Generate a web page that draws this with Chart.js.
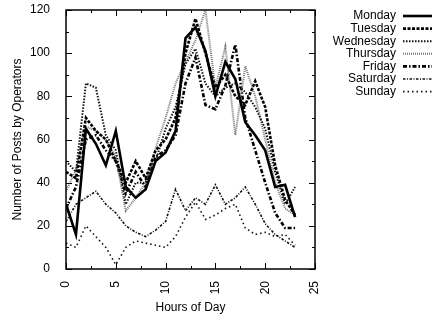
<!DOCTYPE html>
<html>
<head>
<meta charset="utf-8">
<script src="https://cdn.jsdelivr.net/npm/chart.js@4/dist/chart.umd.min.js"></script>
<style>
  html, body { margin: 0; padding: 0; background: #fff; }
  #wrap { width: 437px; height: 322px; }
</style>
</head>
<body>
<div id="wrap"><canvas id="postsChart" width="437" height="322"></canvas></div>
<script>
// Hours of the day
const hours = [0, 1, 2, 3, 4, 5, 6, 7, 8, 9, 10, 11, 12, 13, 14, 15, 16, 17, 18, 19, 20, 21, 22, 23];

// Posts per hour, one list per weekday
const monday    = [30, 16, 65, 58, 48, 64, 38, 33, 37, 50, 54, 64, 107, 112, 101, 80, 96, 88, 68, 62, 55, 38, 39, 24];
const tuesday   = [45, 42, 70, 64, 60, 50, 40, 50, 42, 55, 60, 70, 100, 116, 100, 84, 90, 80, 76, 87, 75, 48, 32, 25];
const wednesday = [50, 45, 86, 84, 62, 55, 30, 40, 40, 50, 65, 75, 95, 102, 86, 80, 84, 86, 82, 75, 65, 45, 30, 38];
const thursday  = [36, 46, 66, 64, 60, 52, 27, 33, 40, 56, 70, 86, 96, 106, 120, 84, 103, 62, 94, 80, 60, 40, 28, 25];
const friday    = [28, 38, 60, 62, 55, 50, 35, 45, 38, 52, 55, 62, 86, 98, 76, 74, 85, 104, 70, 55, 40, 26, 19, 19];
const saturday  = [22, 30, 33, 36, 30, 26, 20, 17, 15, 18, 22, 37, 27, 33, 30, 39, 30, 33, 38, 30, 21, 16, 13, 10];
const sunday    = [12, 10, 20, 15, 10, 2, 10, 13, 12, 11, 10, 15, 24, 31, 23, 25, 28, 30, 19, 16, 17, 15, 16, 11];

const dayNames = ['Monday', 'Tuesday', 'Wednesday', 'Thursday', 'Friday', 'Saturday', 'Sunday'];
const xTickLabels = [0, 5, 10, 15, 20, 25];
const yTickLabels = [0, 20, 40, 60, 80, 100, 120];

const FONT = "'Liberation Sans', Arial, sans-serif";

function toPoints(values) {
  return hours.map((h, i) => ({ x: h, y: values[i] }));
}

// line style for each day, roughly like the gnuplot dash types
const styles = [
  { color: '#000', width: 2.6, dash: [] },
  { color: '#000', width: 2.6, dash: [3, 1.5] },
  { color: '#111', width: 2, dash: [1.5, 1.5] },
  { color: '#777', width: 2, dash: [1, 1] },
  { color: '#000', width: 2.6, dash: [4, 2, 1.5, 2] },
  { color: '#111', width: 1.6, dash: [2.5, 1.5, 1, 1.5] },
  { color: '#111', width: 1.6, dash: [1.5, 3] }
];

const series = [monday, tuesday, wednesday, thursday, friday, saturday, sunday];

const datasets = series.map((vals, i) => ({
  label: dayNames[i],
  data: toPoints(vals),
  borderColor: styles[i].color,
  borderWidth: styles[i].width,
  borderDash: styles[i].dash,
  pointRadius: 0,
  fill: false,
  tension: 0
}));

// Box around the plot with inward ticks on all four sides
const framePlugin = {
  id: 'frame',
  afterDraw(chart) {
    const ctx = chart.ctx;
    const a = chart.chartArea;
    const xs = chart.scales.x;
    const ys = chart.scales.y;
    ctx.save();
    ctx.strokeStyle = '#000';
    ctx.lineWidth = 1.5;
    ctx.setLineDash([]);
    ctx.strokeRect(a.left, a.top, a.right - a.left, a.bottom - a.top);

    ctx.lineWidth = 1;
    ctx.beginPath();
    for (let v = ys.min; v <= ys.max; v += 10) {
      const py = Math.round(ys.getPixelForValue(v)) + 0.5;
      const len = (v % 20 === 0) ? 6 : 3;
      ctx.moveTo(a.left, py); ctx.lineTo(a.left + len, py);
      ctx.moveTo(a.right, py); ctx.lineTo(a.right - len, py);
    }
    for (let v = xs.min; v <= xs.max; v += 2.5) {
      const px = Math.round(xs.getPixelForValue(v)) + 0.5;
      const len = (v % 5 === 0) ? 6 : 3;
      ctx.moveTo(px, a.bottom); ctx.lineTo(px, a.bottom - len);
      ctx.moveTo(px, a.top); ctx.lineTo(px, a.top + len);
    }
    ctx.stroke();
    ctx.restore();
  }
};

// gnuplot style key: text right aligned, line sample after it
const keyPlugin = {
  id: 'key',
  afterDraw(chart) {
    const ctx = chart.ctx;
    const textRight = 396;
    const lineLeft = 403;
    const lineRight = 432;
    ctx.save();
    ctx.font = '12px ' + FONT;
    ctx.textAlign = 'right';
    ctx.textBaseline = 'middle';
    chart.data.datasets.forEach((ds, i) => {
      const y = 16 + i * 12.6;
      ctx.fillStyle = '#000';
      ctx.fillText(ds.label, textRight, y);
      ctx.beginPath();
      ctx.strokeStyle = ds.borderColor;
      ctx.lineWidth = ds.borderWidth;
      ctx.setLineDash(ds.borderDash);
      ctx.moveTo(lineLeft, y);
      ctx.lineTo(lineRight, y);
      ctx.stroke();
    });
    ctx.restore();
  }
};

const ctx = document.getElementById('postsChart').getContext('2d');
new Chart(ctx, {
  type: 'line',
  data: { datasets: datasets },
  options: {
    responsive: false,
    animation: false,
    layout: { padding: { left: 0, right: 122, top: 10, bottom: 0 } },
    plugins: {
      legend: { display: false },
      tooltip: { enabled: false }
    },
    scales: {
      x: {
        type: 'linear',
        min: 0,
        max: 25,
        afterBuildTicks(scale) {
          scale.ticks = xTickLabels.map(v => ({ value: v }));
        },
        afterFit(scale) {
          scale.height = 53;
          scale.paddingLeft = 0;
          scale.paddingRight = 0;
        },
        grid: { display: false },
        border: { display: false },
        ticks: {
          color: '#000',
          font: { family: FONT, size: 12 },
          minRotation: 90,
          maxRotation: 90,
          padding: 4
        },
        title: {
          display: true,
          text: 'Hours of Day',
          color: '#000',
          font: { family: FONT, size: 12 },
          padding: { top: 0, bottom: 7 }
        }
      },
      y: {
        type: 'linear',
        min: 0,
        max: 120,
        afterBuildTicks(scale) {
          scale.ticks = yTickLabels.map(v => ({ value: v }));
        },
        afterFit(scale) {
          scale.width = 66;
          scale.paddingTop = 0;
          scale.paddingBottom = 0;
        },
        grid: { display: false },
        border: { display: false },
        ticks: {
          color: '#000',
          font: { family: FONT, size: 12 },
          padding: 8
        },
        title: {
          display: true,
          text: 'Number of Posts by Operators',
          color: '#000',
          font: { family: FONT, size: 12 },
          padding: { top: 10, bottom: 0 }
        }
      }
    }
  },
  plugins: [framePlugin, keyPlugin]
});
</script>
</body>
</html>
